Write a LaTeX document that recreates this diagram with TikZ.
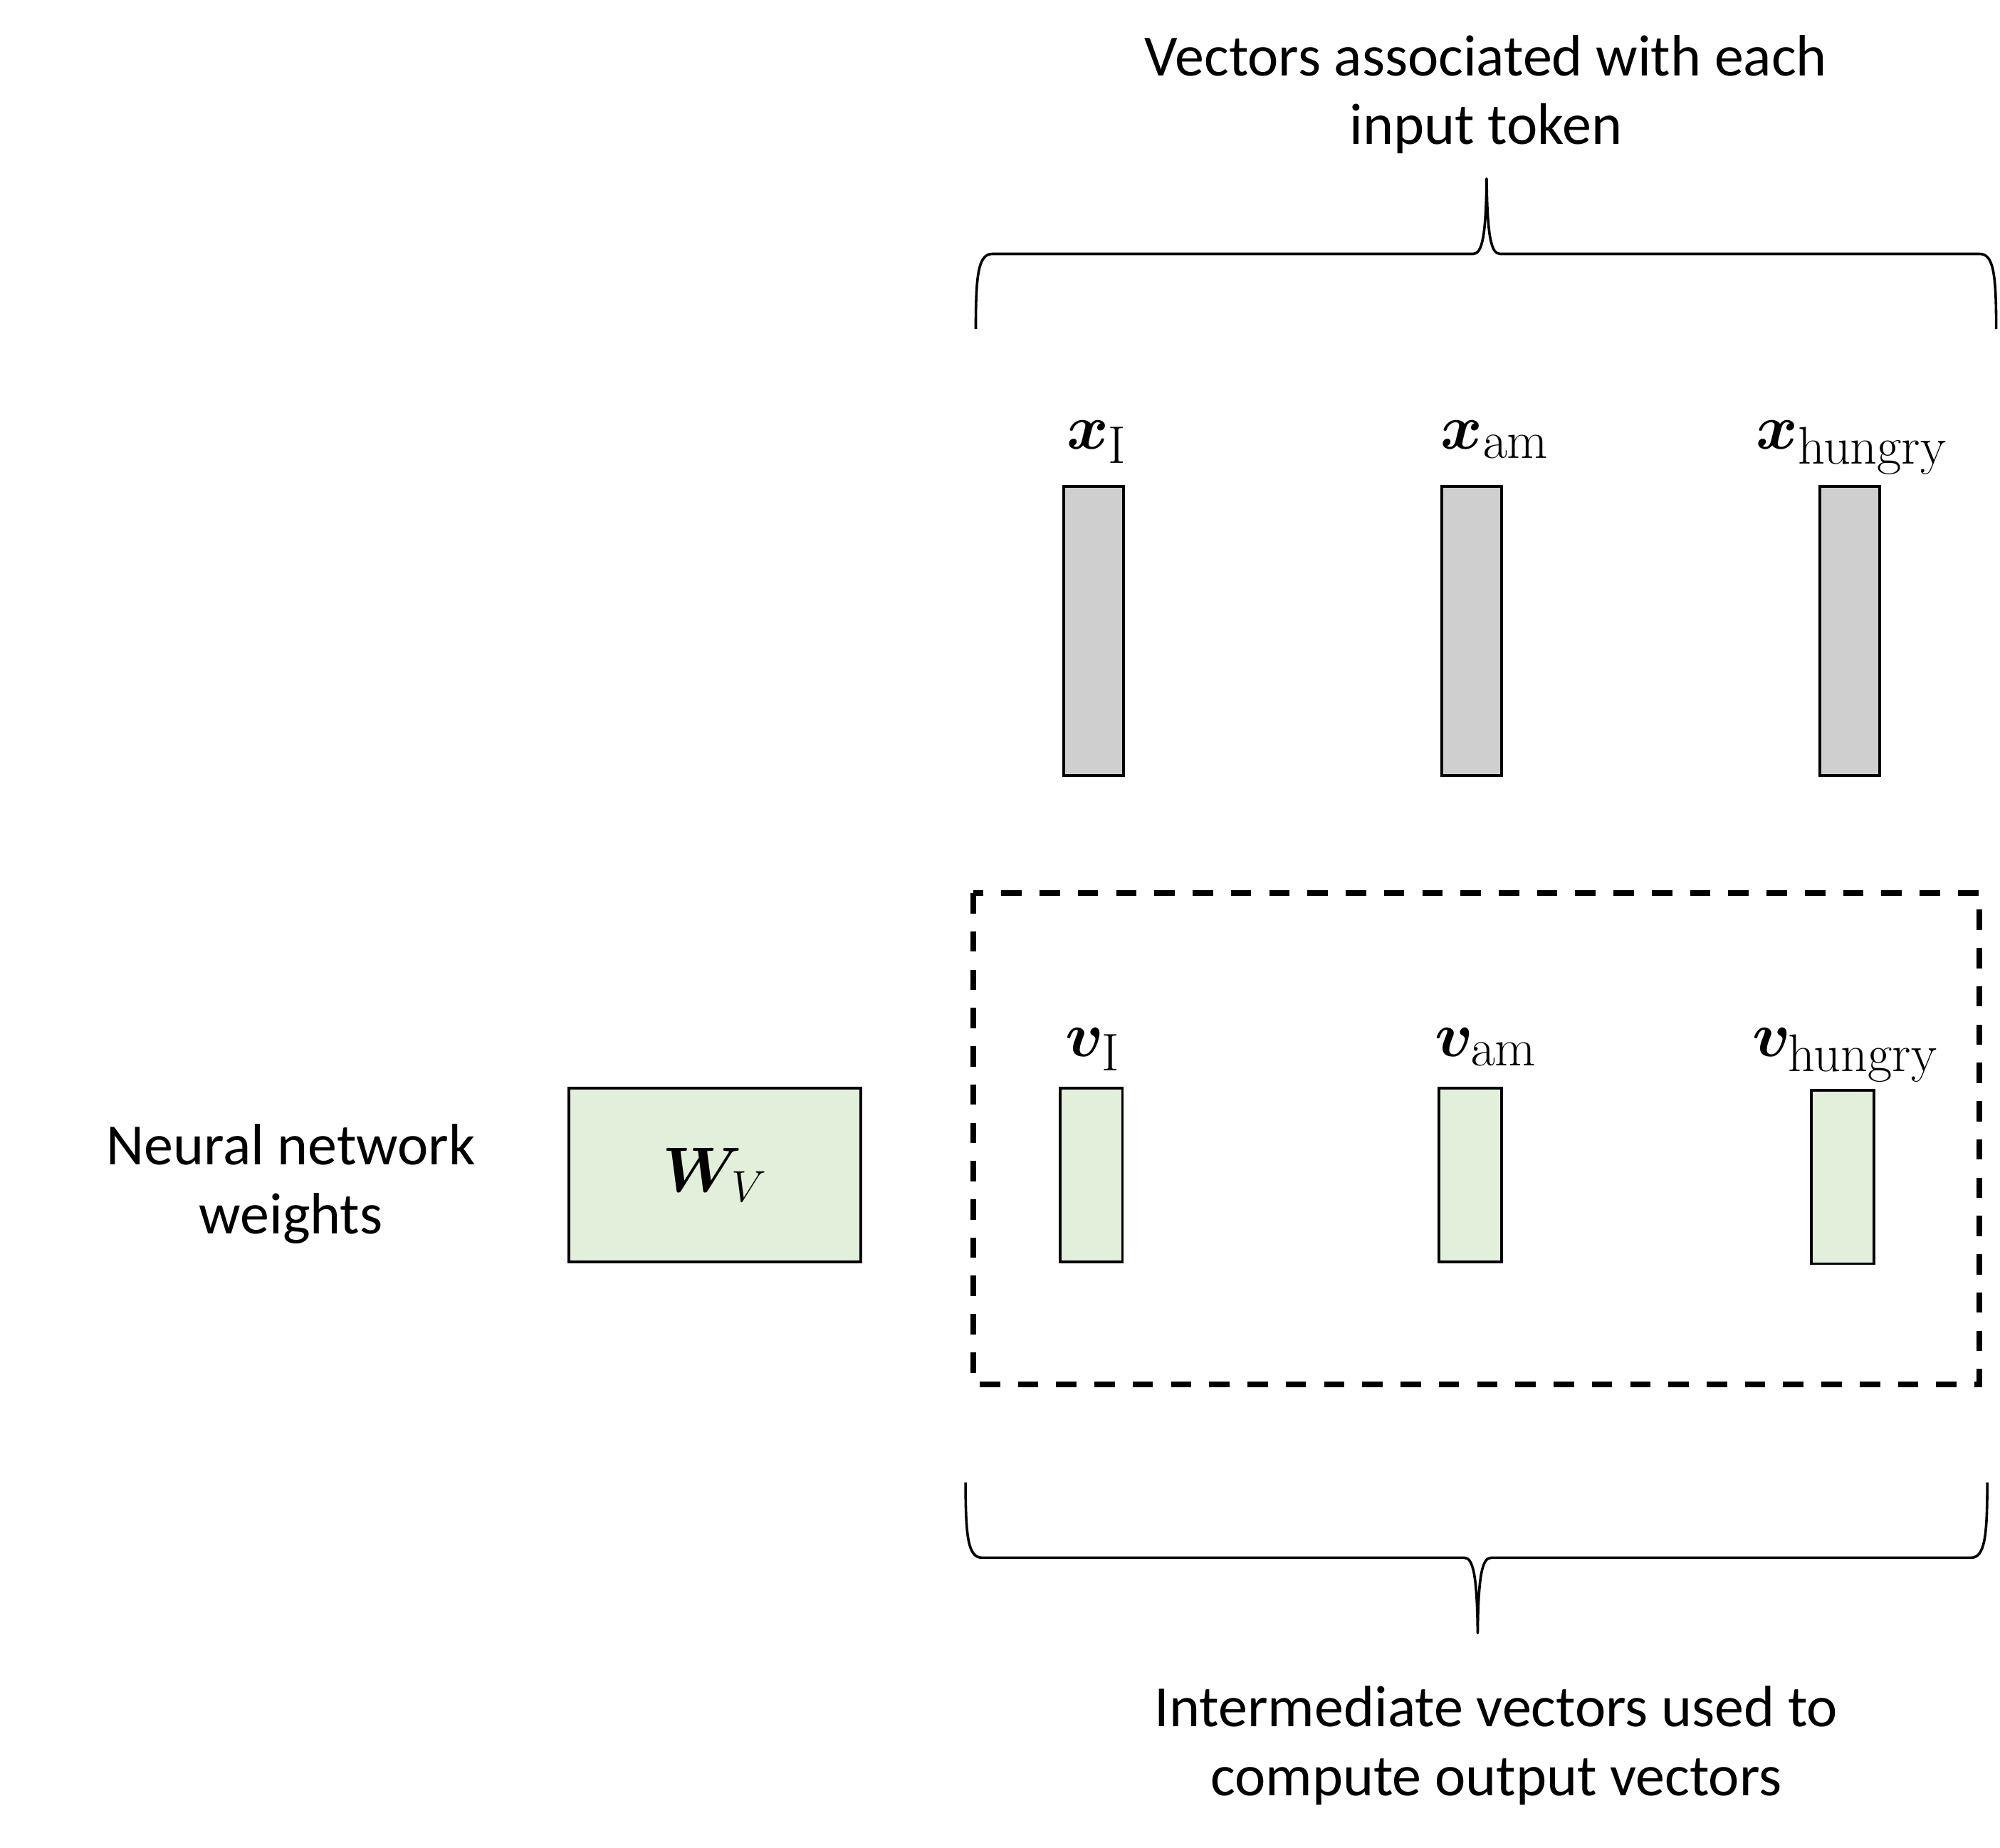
\documentclass[tikz,border=0pt]{standalone}
\usepackage{amsmath,bm}
\usepackage[no-math]{fontspec}
\setmainfont{Carlito}
\usetikzlibrary{positioning}
\definecolor{barGray}{HTML}{D0CFD0}
\definecolor{barGreen}{HTML}{E2EFDA}

\begin{document}
\begin{tikzpicture}[x=0.5pt,y=-0.5pt,inner sep=0pt,outer sep=0pt,
txt/.style={align=center,font=\fontsize{22.9}{27}\selectfont},
veclabel/.style={anchor=base,font=\fontsize{29}{34}\selectfont},
xbar/.style={draw,line width=1.1pt,fill=barGray,minimum width=23.5pt,minimum height=113.5pt},
vbar/.style={draw,line width=1.1pt,fill=barGreen,minimum width=24.5pt,minimum height=68pt},
wblock/.style={draw,line width=1.1pt,fill=barGreen,minimum width=114.5pt,minimum height=68pt,font=\fontsize{24}{28}\selectfont},
bracepath/.style={line width=1pt,line join=round}]
\useasboundingbox (0,0) rectangle (1568,1448);

% input vectors
\node[xbar] (xI) at (857.5,494.5) {};
\node[xbar] (xam) at (1154,494.5) {};
\node[xbar] (xhungry) at (1450,494.5) {};
\node[veclabel] (lxI) at (860,352) {$\bm{x}_{\mathrm{I}}$};
\node[veclabel] (lxam) at (1172,352) {$\bm{x}_{\mathrm{am}}$};
\node[veclabel] (lxhungry) at (1452,352) {$\bm{x}_{\mathrm{hungry}}$};

% value vectors
\draw[line width=2.2pt,dash pattern=on 8pt off 7pt] (763,700) rectangle (1552,1085);
\node[vbar] (vI) at (855.5,921) {};
\node[vbar] (vam) at (1152.5,921) {};
\node[vbar] (vhungry) at (1444.5,922.5) {};
\node[veclabel] (lvI) at (857,828) {$\bm{v}_{\mathrm{I}}$};
\node[veclabel] (lvam) at (1165,828) {$\bm{v}_{\mathrm{am}}$};
\node[veclabel] (lvhungry) at (1447,828) {$\bm{v}_{\mathrm{hungry}}$};

% weights
\node[wblock] (W) at (560.5,921) {$\bm{W}_{V}$};
\node[txt] (wtext) at (228,928) {Neural network\\weights};

% braces
\draw[bracepath] (765,258) .. controls (765,215) and (767,199) .. (778,199) -- (1155,199)
  .. controls (1162,199) and (1165,185) .. (1165.5,140) .. controls (1166,185) and (1169,199) .. (1176,199)
  -- (1552,199) .. controls (1563,199) and (1565,215) .. (1565,258);
\draw[bracepath] (757,1162) .. controls (757,1205) and (759,1221) .. (770,1221) -- (1148,1221)
  .. controls (1155,1221) and (1158,1235) .. (1158.5,1280) .. controls (1159,1235) and (1162,1221) .. (1169,1221)
  -- (1545,1221) .. controls (1556,1221) and (1558,1205) .. (1558,1162);
\node[txt] (toptext) at (1165,74) {Vectors associated with each\\input token};
\node[txt] (bottext) at (1173,1368) {Intermediate vectors used to\\compute output vectors};
\end{tikzpicture}
\end{document}
